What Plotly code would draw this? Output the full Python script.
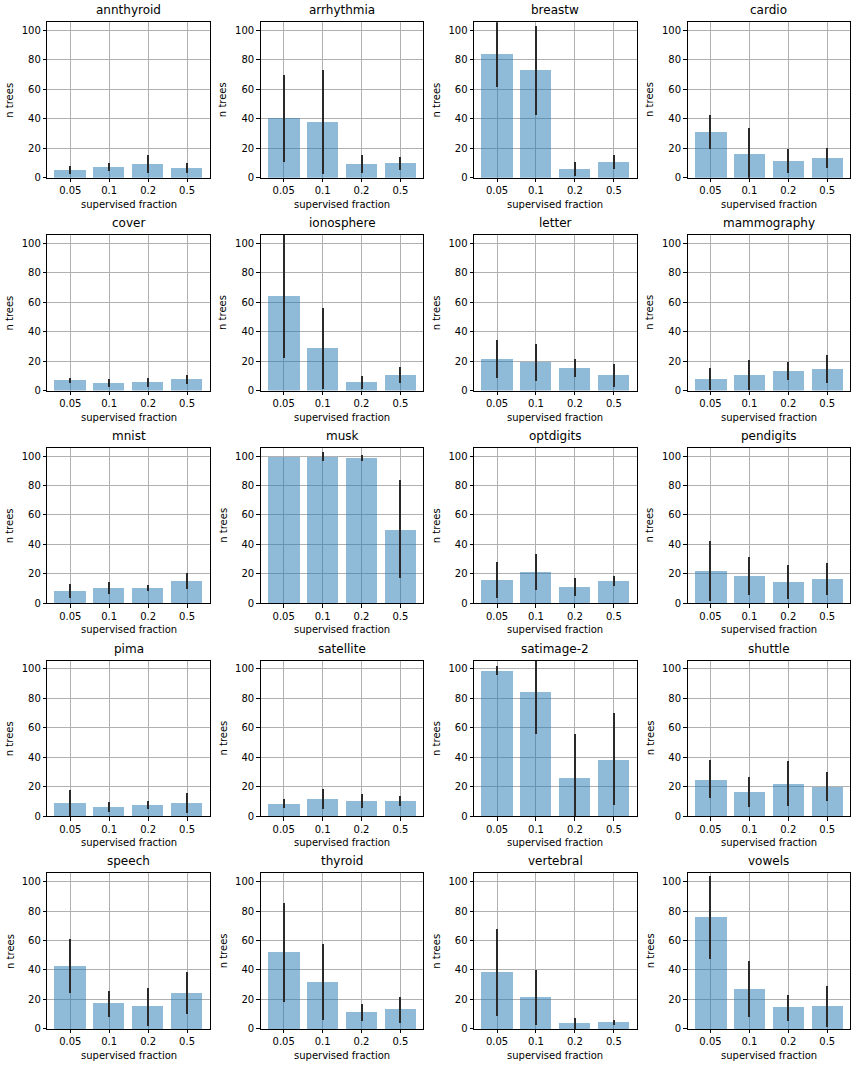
import plotly.graph_objects as go

datasets = ["annthyroid", "arrhythmia", "breastw", "cardio",
            "cover", "ionosphere", "letter", "mammography",
            "mnist", "musk", "optdigits", "pendigits",
            "pima", "satellite", "satimage-2", "shuttle",
            "speech", "thyroid", "vertebral", "vowels"]

fractions = ["0.05", "0.1", "0.2", "0.5"]

# mean number of trees per supervised fraction (aligned with datasets)
mean_005 = [5.2, 40.1, 84.2, 30.9, 7.0, 64.4, 21.2, 7.7, 8.3, 99.8,
            15.8, 21.8, 9.0, 8.3, 99.1, 25.1, 42.6, 52.0, 38.6, 75.6]
mean_01 = [7.2, 37.6, 72.7, 16.0, 5.0, 28.6, 19.1, 10.4, 10.4, 99.5,
           21.2, 18.5, 6.3, 11.7, 84.3, 16.4, 17.0, 31.8, 21.1, 27.1]
mean_02 = [9.2, 9.2, 5.9, 11.3, 5.6, 5.6, 15.1, 13.1, 10.4, 98.9,
           11.0, 14.4, 7.6, 10.3, 26.5, 22.4, 15.0, 11.0, 3.6, 14.3]
mean_05 = [6.5, 9.9, 10.6, 13.3, 7.7, 10.4, 10.4, 14.4, 15.1, 50.2,
           15.1, 16.4, 9.0, 10.3, 38.6, 20.0, 24.4, 13.0, 4.3, 15.0]

# error (std) per supervised fraction
err_005 = [2.5, 29.7, 22.7, 11.4, 1.7, 42.6, 13.0, 7.5, 4.6, 0.0,
           12.0, 20.5, 8.9, 3.0, 3.0, 13.0, 18.5, 33.5, 29.5, 28.1]
err_01 = [2.9, 35.2, 30.2, 17.8, 2.5, 27.5, 12.8, 10.2, 4.0, 2.9,
          12.2, 12.7, 3.2, 7.0, 28.3, 10.0, 8.7, 25.8, 18.7, 19.1]
err_02 = [6.0, 6.3, 5.0, 8.0, 3.0, 4.3, 6.0, 6.0, 2.0, 2.0,
          6.0, 11.8, 2.7, 5.0, 29.0, 15.3, 13.1, 5.6, 4.0, 8.6]
err_05 = [3.4, 4.4, 5.0, 7.0, 3.0, 5.6, 7.7, 9.4, 5.7, 33.3,
          3.6, 10.8, 6.6, 3.4, 31.2, 10.0, 14.5, 8.7, 1.6, 13.8]

W, H = 856, 1072
NCOL = 4
ax_left0, col_step, ax_w = 47.3, 213.4, 162.7
ax_top0, row_step, ax_h = 22.3, 214.0, 156.4

FONT = "DejaVu Sans"
fig = go.Figure()
annotations = []
layout_axes = {}

for i, name in enumerate(datasets):
    r, c = divmod(i, NCOL)
    k = i + 1
    xa = "x" if k == 1 else f"x{k}"
    ya = "y" if k == 1 else f"y{k}"
    left = ax_left0 + c * col_step
    right = left + ax_w
    top = ax_top0 + r * row_step
    bottom = top + ax_h
    x0, x1 = left / W, right / W
    y0, y1 = (H - bottom) / H, (H - top) / H

    means = [mean_005[i], mean_01[i], mean_02[i], mean_05[i]]
    errs = [err_005[i], err_01[i], err_02[i], err_05[i]]

    fig.add_trace(go.Bar(
        x=list(range(len(fractions))), y=means, width=0.8,
        marker=dict(color="rgba(31,119,180,0.5)", line=dict(width=0)),
        error_y=dict(type="data", array=errs, visible=True,
                     color="#2a2a2a", thickness=2, width=0),
        xaxis=xa, yaxis=ya, showlegend=False, hoverinfo="x+y",
    ))

    axis_common = dict(
        showline=True, mirror=True, linecolor="black", linewidth=1,
        ticks="outside", ticklen=3.5, tickwidth=0.8, tickcolor="black",
        showgrid=True, gridcolor="#b0b0b0", gridwidth=0.8,
        zeroline=False, tickfont=dict(family=FONT, size=10, color="black"),
        fixedrange=True,
    )
    layout_axes["xaxis" if k == 1 else f"xaxis{k}"] = dict(
        axis_common, domain=[x0, x1], anchor=ya,
        range=[-0.59, 3.59], tickmode="array",
        tickvals=list(range(len(fractions))), ticktext=fractions,
    )
    layout_axes["yaxis" if k == 1 else f"yaxis{k}"] = dict(
        axis_common, domain=[y0, y1], anchor=xa,
        range=[0, 105.6], tickmode="array",
        tickvals=[0, 20, 40, 60, 80, 100],
    )

    # subplot title
    annotations.append(dict(
        text=name, x=(x0 + x1) / 2, y=y1, xref="paper", yref="paper",
        xanchor="center", yanchor="bottom", yshift=3, showarrow=False,
        font=dict(family=FONT, size=12, color="black"),
    ))
    # x axis label
    annotations.append(dict(
        text="supervised fraction", x=(x0 + x1) / 2, y=y0,
        xref="paper", yref="paper", xanchor="center", yanchor="top",
        yshift=-19, showarrow=False,
        font=dict(family=FONT, size=10, color="black"),
    ))
    # y axis label
    annotations.append(dict(
        text="n trees", x=x0, y=(y0 + y1) / 2, xref="paper", yref="paper",
        xanchor="right", yanchor="middle", xshift=-30, textangle=-90,
        showarrow=False, font=dict(family=FONT, size=10, color="black"),
    ))

fig.update_layout(
    width=W, height=H, margin=dict(l=0, r=0, t=0, b=0),
    paper_bgcolor="white", plot_bgcolor="white",
    annotations=annotations, bargap=0, **layout_axes,
)

# remove the browser's default 8px body margin so the figure fills the window
fig.write_html(
    "out.html",
    config={"displayModeBar": False},
    post_script="document.body.style.margin='0px';"
                "document.body.style.overflow='hidden';",
)
